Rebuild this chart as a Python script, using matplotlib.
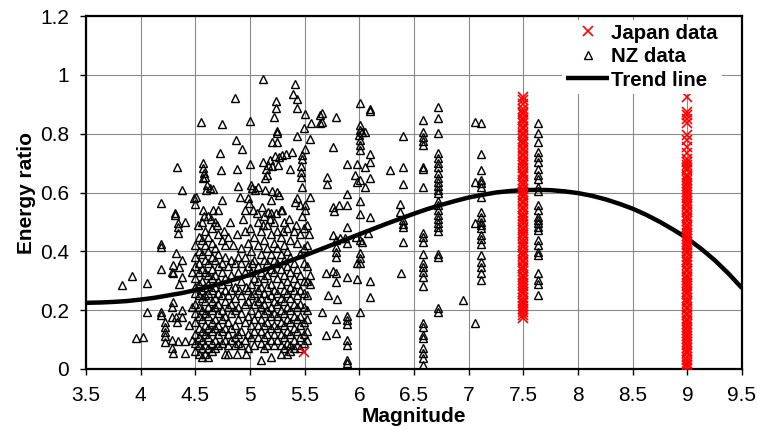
import matplotlib
matplotlib.use("Agg")
import matplotlib.pyplot as plt
import numpy as np

plt.rcParams['font.family'] = ['Liberation Sans', 'DejaVu Sans']

# ---------------- data ----------------
# Trend line
trend_mag = [3.5, 3.625, 3.75, 3.875, 4.0, 4.125, 4.25, 4.375, 4.5, 4.625, 4.75, 4.875,
             5.0, 5.125, 5.25, 5.375, 5.5, 5.625, 5.75, 5.875, 6.0, 6.125, 6.25, 6.375,
             6.5, 6.625, 6.75, 6.875, 7.0, 7.125, 7.25, 7.375, 7.5, 7.625, 7.75, 7.875,
             8.0, 8.125, 8.25, 8.375, 8.5, 8.625, 8.75, 8.875, 9.0, 9.125, 9.25, 9.375, 9.5]
trend_ratio = [0.225, 0.226, 0.228, 0.231, 0.236, 0.242, 0.250, 0.258, 0.268, 0.280, 0.292,
               0.306, 0.320, 0.336, 0.352, 0.369, 0.386, 0.404, 0.422, 0.440, 0.458, 0.476,
               0.494, 0.511, 0.528, 0.544, 0.558, 0.571, 0.583, 0.592, 0.600, 0.605, 0.608,
               0.609, 0.608, 0.604, 0.598, 0.589, 0.577, 0.562, 0.545, 0.524, 0.500, 0.473,
               0.444, 0.409, 0.370, 0.325, 0.275]

# Japan data: magnitude 7.5 and 9.0 columns + one point at 5.5
japan_75 = [0.926, 0.914, 0.900, 0.885, 0.874, 0.866, 0.853, 0.845, 0.836, 0.822, 0.815,
            0.803, 0.794, 0.781, 0.772, 0.765, 0.751, 0.743, 0.732, 0.724, 0.711, 0.703,
            0.692, 0.684, 0.671, 0.662, 0.655, 0.641, 0.633, 0.624, 0.612, 0.603, 0.591,
            0.584, 0.572, 0.563, 0.551, 0.545, 0.532, 0.521, 0.514, 0.502, 0.493, 0.481,
            0.474, 0.462, 0.455, 0.441, 0.433, 0.422, 0.414, 0.401, 0.392, 0.384, 0.371,
            0.363, 0.351, 0.342, 0.334, 0.321, 0.313, 0.302, 0.294, 0.281, 0.273, 0.262,
            0.254, 0.243, 0.232, 0.224, 0.213, 0.204, 0.195, 0.184, 0.172]
japan_90 = [0.926, 0.875, 0.863, 0.849, 0.837, 0.795, 0.778, 0.756, 0.733, 0.713,
            0.702, 0.694, 0.682, 0.675, 0.661, 0.653, 0.644, 0.632, 0.621, 0.613, 0.602,
            0.591, 0.583, 0.572, 0.561, 0.553, 0.542, 0.534, 0.521, 0.512, 0.503, 0.491,
            0.484, 0.472, 0.463, 0.452, 0.441, 0.433, 0.422, 0.413, 0.401, 0.394, 0.382,
            0.371, 0.363, 0.352, 0.341, 0.333, 0.321, 0.312, 0.304, 0.292, 0.281, 0.273,
            0.262, 0.254, 0.243, 0.231, 0.224, 0.212, 0.203, 0.192, 0.183, 0.171, 0.162,
            0.153, 0.142, 0.131, 0.124, 0.112, 0.101, 0.093, 0.082, 0.071, 0.062, 0.053,
            0.041, 0.032, 0.021, 0.012, 0.004]
japan_other = [(5.49, 0.058)]

# NZ data: scattered points (magnitude, ratio)
nz_scatter = [
    (3.83, 0.286), (3.92, 0.316), (3.96, 0.104), (4.02, 0.110), (4.06, 0.291), (4.06, 0.194),
    (4.19, 0.565), (4.19, 0.424), (4.19, 0.414), (4.19, 0.339), (4.19, 0.194), (4.19, 0.184),
    (4.225, 0.161), (4.225, 0.144), (4.225, 0.127), (4.225, 0.112), (4.225, 0.093),
    (4.29, 0.212), (4.29, 0.178), (4.29, 0.331), (4.29, 0.099), (4.29, 0.070),
    (4.30, 0.228), (4.30, 0.354), (4.30, 0.325), (4.30, 0.053),
    (4.31, 0.523), (4.31, 0.530), (4.32, 0.395), (4.32, 0.178),
    (4.33, 0.688), (4.33, 0.161), (4.34, 0.495), (4.34, 0.482), (4.34, 0.461), (4.345, 0.095),
    (4.35, 0.346), (4.35, 0.289), (4.375, 0.371), (4.38, 0.608), (4.38, 0.314), (4.38, 0.200),
    (4.38, 0.178), (4.41, 0.499), (4.41, 0.095), (4.41, 0.055), (4.44, 0.150),
    (4.49, 0.580), (4.50, 0.560), (4.506, 0.586),
    (4.55, 0.839), (4.573, 0.699), (4.573, 0.682), (4.58, 0.665), (4.59, 0.654), (4.573, 0.648),
    (4.61, 0.625), (4.635, 0.614), (4.66, 0.611), (4.60, 0.608),
    (4.57, 0.540), (4.66, 0.540), (4.71, 0.540),
    (4.725, 0.733), (4.735, 0.676), (4.74, 0.833), (4.74, 0.574),
    (4.866, 0.920), (4.87, 0.778), (4.88, 0.679), (4.887, 0.622), (4.93, 0.747),
    (4.91, 0.584), (4.955, 0.540), (4.985, 0.580), (4.99, 0.563),
    (5.00, 0.844), (5.00, 0.696), (5.006, 0.625), (5.02, 0.614), (5.03, 0.540), (5.05, 0.610),
    (5.12, 0.986), (5.41, 0.968), (5.39, 0.934), (5.43, 0.918), (5.235, 0.911), (5.24, 0.888),
    (5.43, 0.886), (5.22, 0.856), (5.50, 0.867), (5.56, 0.835), (5.64, 0.863), (5.64, 0.837),
    (5.49, 0.820), (5.25, 0.809), (5.25, 0.801), (5.43, 0.792), (5.55, 0.782), (5.20, 0.770),
    (5.25, 0.773), (5.50, 0.747), (5.387, 0.739), (5.33, 0.731), (5.29, 0.727), (5.265, 0.722),
    (5.23, 0.724), (5.18, 0.710), (5.12, 0.705), (5.167, 0.693), (5.20, 0.690), (5.26, 0.693),
    (5.15, 0.680), (5.48, 0.727), (5.48, 0.713), (5.366, 0.680), (5.47, 0.690), (5.47, 0.671),
    (5.47, 0.654), (5.16, 0.659), (5.14, 0.648), (5.07, 0.620), (5.14, 0.608), (5.20, 0.606),
    (5.245, 0.603), (5.265, 0.591), (5.48, 0.620), (5.55, 0.586), (5.43, 0.580), (5.41, 0.569),
    (5.457, 0.557), (5.50, 0.557), (5.50, 0.540), (5.107, 0.552), (5.19, 0.574), (5.29, 0.540),
    (5.167, 0.535),
    (4.52, 0.49), (4.58, 0.52), (4.64, 0.51), (4.70, 0.49), (4.76, 0.47), (4.82, 0.50),
    (4.88, 0.46), (4.94, 0.51), (5.00, 0.48), (5.06, 0.53), (5.12, 0.49), (5.18, 0.51),
    (5.24, 0.53), (5.30, 0.47), (5.36, 0.51), (5.42, 0.49), (5.48, 0.52), (5.54, 0.46),
    (4.84, 0.42), (4.90, 0.27), (4.96, 0.28), (5.02, 0.36), (4.88, 0.05), (4.96, 0.05),
    (5.04, 0.08), (4.47, 0.33), (4.47, 0.21), (4.47, 0.10),
    (5.656, 0.869), (5.656, 0.841), (5.787, 0.858), (6.01, 0.903), (6.10, 0.883), (6.10, 0.878),
    (6.006, 0.829), (6.006, 0.812), (6.02, 0.807), (6.05, 0.807), (6.00, 0.795), (6.01, 0.778),
    (6.006, 0.761), (6.01, 0.744), (6.40, 0.792), (5.76, 0.753), (6.10, 0.731), (6.10, 0.705),
    (5.885, 0.697), (5.98, 0.697), (6.05, 0.686), (6.28, 0.676), (6.40, 0.688),
    (5.96, 0.659), (5.98, 0.637), (6.01, 0.642), (6.05, 0.620), (6.10, 0.648), (5.70, 0.654),
    (5.70, 0.629), (6.40, 0.629), (5.89, 0.595), (5.885, 0.557), (6.01, 0.572), (5.76, 0.552),
    (5.765, 0.538), (5.81, 0.557), (6.01, 0.527), (6.10, 0.518), (6.37, 0.561), (6.37, 0.535),
    (6.40, 0.506), (6.40, 0.493), (6.40, 0.484), (5.885, 0.482), (6.08, 0.463),
    (5.76, 0.455), (5.787, 0.438), (5.82, 0.444), (5.87, 0.444), (5.885, 0.427), (5.97, 0.448),
    (6.01, 0.438), (6.02, 0.433), (5.787, 0.416), (5.787, 0.399), (5.787, 0.382), (6.40, 0.433),
    (6.01, 0.393), (6.01, 0.376), (6.01, 0.359), (5.98, 0.359),
    (5.695, 0.325), (5.76, 0.334), (5.787, 0.325), (5.79, 0.297), (5.885, 0.312), (5.98, 0.306),
    (6.10, 0.300), (6.38, 0.325), (5.71, 0.252), (5.80, 0.237), (6.10, 0.246), (5.656, 0.195),
    (6.01, 0.195), (5.79, 0.169), (5.885, 0.180), (5.885, 0.167), (5.885, 0.153),
    (5.695, 0.116), (5.79, 0.121), (5.885, 0.099), (5.89, 0.082), (5.885, 0.030), (5.885, 0.022),
    (6.95, 0.235), (7.06, 0.841), (7.06, 0.637), (7.06, 0.495), (7.06, 0.157),
]

# NZ data: dense columns (magnitude -> ratios)
nz_columns = {
    4.50: [0.42, 0.38, 0.35, 0.31, 0.28, 0.26, 0.22, 0.19, 0.16, 0.12, 0.09, 0.06],
    4.53: [0.45, 0.40, 0.36, 0.33, 0.29, 0.25, 0.21, 0.18, 0.14, 0.11, 0.08, 0.05],
    4.56: [0.50, 0.44, 0.39, 0.34, 0.30, 0.27, 0.24, 0.20, 0.17, 0.13, 0.10, 0.07, 0.04],
    4.59: [0.47, 0.42, 0.37, 0.33, 0.28, 0.25, 0.23, 0.19, 0.15, 0.12, 0.08, 0.05],
    4.62: [0.52, 0.45, 0.40, 0.36, 0.32, 0.29, 0.26, 0.21, 0.18, 0.14, 0.11, 0.07, 0.04],
    4.65: [0.48, 0.43, 0.38, 0.34, 0.31, 0.27, 0.23, 0.20, 0.16, 0.13, 0.09, 0.06],
    4.68: [0.50, 0.41, 0.37, 0.32, 0.28, 0.24, 0.21, 0.17, 0.14, 0.10, 0.07],
    4.71: [0.46, 0.39, 0.35, 0.30, 0.26, 0.22, 0.19, 0.15, 0.12, 0.08],
    4.74: [0.44, 0.36, 0.33, 0.29, 0.25, 0.20, 0.17, 0.13, 0.09],
    4.77: [0.42, 0.38, 0.31, 0.27, 0.23, 0.18, 0.14, 0.10, 0.05],
    4.80: [0.45, 0.35, 0.30, 0.25, 0.21, 0.16, 0.12, 0.08, 0.05],
    4.83: [0.37, 0.32, 0.27, 0.22, 0.19, 0.14, 0.10],
    4.86: [0.36, 0.28, 0.24, 0.20, 0.15, 0.11, 0.08],
    4.89: [0.38, 0.33, 0.21, 0.17, 0.12, 0.09],
    4.92: [0.41, 0.36, 0.30, 0.25, 0.19, 0.13, 0.08],
    4.95: [0.47, 0.38, 0.33, 0.22, 0.16, 0.10],
    4.98: [0.43, 0.35, 0.27, 0.23, 0.18, 0.12, 0.07],
    5.01: [0.40, 0.33, 0.29, 0.25, 0.20, 0.15, 0.11],
    5.04: [0.45, 0.37, 0.31, 0.26, 0.22, 0.17, 0.13],
    5.07: [0.50, 0.42, 0.35, 0.30, 0.27, 0.23, 0.19, 0.15, 0.11],
    5.10: [0.47, 0.39, 0.33, 0.28, 0.24, 0.21, 0.17, 0.13, 0.09, 0.03],
    5.13: [0.52, 0.44, 0.37, 0.31, 0.26, 0.22, 0.19, 0.15, 0.11, 0.07],
    5.16: [0.49, 0.41, 0.36, 0.32, 0.28, 0.24, 0.20, 0.16, 0.12, 0.08],
    5.19: [0.53, 0.46, 0.39, 0.34, 0.29, 0.25, 0.21, 0.18, 0.14, 0.10, 0.04],
    5.22: [0.50, 0.43, 0.37, 0.33, 0.27, 0.23, 0.19, 0.15, 0.12, 0.08],
    5.25: [0.47, 0.41, 0.36, 0.31, 0.26, 0.22, 0.18, 0.14, 0.10],
    5.28: [0.54, 0.45, 0.39, 0.34, 0.29, 0.24, 0.20, 0.16, 0.12, 0.08, 0.05],
    5.31: [0.50, 0.42, 0.37, 0.32, 0.27, 0.23, 0.19, 0.15, 0.11, 0.07],
    5.34: [0.48, 0.40, 0.35, 0.30, 0.26, 0.21, 0.17, 0.13, 0.09, 0.05],
    5.37: [0.44, 0.38, 0.33, 0.28, 0.24, 0.20, 0.16, 0.12, 0.08, 0.06],
    5.40: [0.47, 0.36, 0.31, 0.27, 0.22, 0.18, 0.14, 0.10, 0.07],
    5.43: [0.43, 0.34, 0.29, 0.25, 0.21, 0.17, 0.13, 0.08],
    5.46: [0.46, 0.39, 0.32, 0.27, 0.22, 0.18, 0.15, 0.11, 0.07],
    5.49: [0.48, 0.41, 0.36, 0.30, 0.26, 0.21, 0.16, 0.12, 0.09],
    5.52: [0.49, 0.42, 0.35, 0.30, 0.25, 0.20, 0.17, 0.13, 0.10],
    5.55: [0.32, 0.29],
    6.58: [0.846, 0.807, 0.790, 0.775, 0.761, 0.686, 0.679, 0.620, 0.461, 0.450, 0.433, 0.391,
           0.359, 0.346, 0.331, 0.314, 0.282, 0.155, 0.144, 0.116, 0.104, 0.070, 0.053, 0.036,
           0.014],
    6.72: [0.892, 0.852, 0.801, 0.733, 0.716, 0.701, 0.686, 0.667, 0.648, 0.637, 0.622, 0.608,
           0.597, 0.572, 0.557, 0.540, 0.523, 0.509, 0.495, 0.484, 0.470, 0.391, 0.382, 0.206,
           0.195],
    7.11: [0.837, 0.731, 0.676, 0.642, 0.631, 0.620, 0.586, 0.535, 0.518, 0.501, 0.489, 0.478,
           0.455, 0.441, 0.425, 0.387, 0.365, 0.348, 0.327, 0.302],
    7.63: [0.837, 0.801, 0.771, 0.739, 0.720, 0.705, 0.679, 0.660, 0.645, 0.618, 0.606, 0.557,
           0.540, 0.518, 0.506, 0.495, 0.484, 0.472, 0.438, 0.421, 0.399, 0.387, 0.325, 0.302,
           0.289, 0.252],
}

x_ticks = [3.5, 4, 4.5, 5, 5.5, 6, 6.5, 7, 7.5, 8, 8.5, 9, 9.5]
y_ticks = [0, 0.2, 0.4, 0.6, 0.8, 1.0, 1.2]
x_tick_labels = ['3.5', '4', '4.5', '5', '5.5', '6', '6.5', '7', '7.5', '8', '8.5', '9', '9.5']
y_tick_labels = ['0', '0.2', '0.4', '0.6', '0.8', '1', '1.2']

# ---------------- assemble ----------------
nz_x = [p[0] for p in nz_scatter]
nz_y = [p[1] for p in nz_scatter]
for m, ys in nz_columns.items():
    nz_x += [m] * len(ys)
    nz_y += ys

jp_x = [7.5] * len(japan_75) + [9.0] * len(japan_90) + [p[0] for p in japan_other]
jp_y = list(japan_75) + list(japan_90) + [p[1] for p in japan_other]

# ---------------- plot ----------------
fig = plt.figure(figsize=(7.57, 4.30), dpi=100)
ax = fig.add_axes([86 / 757, 1 - 369 / 430, 656 / 757, 353 / 430])

ax.plot(nz_x, nz_y, linestyle='none', marker='^', markersize=5.6, markerfacecolor='none',
        markeredgecolor='black', markeredgewidth=1.0, zorder=2, label='NZ data')
ax.plot(trend_mag, trend_ratio, color='black', linewidth=3.2, zorder=3, label='Trend line',
        solid_capstyle='butt')
ax.plot(jp_x, jp_y, linestyle='none', marker='x', markersize=7, color='#ff0000',
        markeredgewidth=1.2, zorder=4, label='Japan data')

ax.set_xlim(3.5, 9.5)
ax.set_ylim(0, 1.2)
ax.set_xticks(x_ticks)
ax.set_xticklabels(x_tick_labels)
ax.set_yticks(y_ticks)
ax.set_yticklabels(y_tick_labels)
ax.grid(True, color='#8a8a8a', linewidth=0.8, zorder=0)
ax.set_axisbelow(True)
for s in ax.spines.values():
    s.set_linewidth(1.6)
    s.set_color('black')
ax.tick_params(axis='both', direction='out', length=4, width=1, labelsize=15)
ax.tick_params(axis='x', pad=8)
ax.tick_params(axis='y', pad=8)

ax.set_xlabel('Magnitude', fontsize=15, fontweight='bold', labelpad=2)
ax.set_ylabel('Energy ratio', fontsize=15, fontweight='bold', labelpad=3)

handles, labels = ax.get_legend_handles_labels()
order = [2, 0, 1]
leg = ax.legend([handles[i] for i in order], [labels[i] for i in order],
                loc='upper right', bbox_to_anchor=(0.969, 0.99), frameon=True,
                facecolor='white', edgecolor='none', framealpha=1, fancybox=False,
                prop={'weight': 'bold', 'size': 14.7}, handlelength=2.1,
                handletextpad=0.1, labelspacing=0.22, borderpad=0.2, borderaxespad=0)
leg.set_zorder(10)

fig.savefig('out.png', dpi=100)
